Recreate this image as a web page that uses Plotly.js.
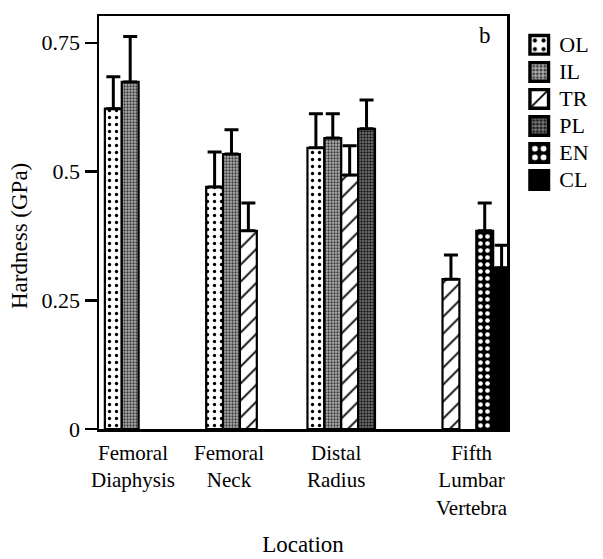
<!DOCTYPE html>
<html>
<head>
<meta charset="utf-8">
<script src="https://cdn.plot.ly/plotly-3.0.1.min.js"></script>
<style>html,body{margin:0;padding:0;background:#fff;}</style>
</head>
<body>
<div id="chart" style="width:603px;height:559px;"></div>
<script>
// ---- data ----
const categories = ['Femoral Diaphysis', 'Femoral Neck', 'Distal Radius', 'Fifth Lumbar Vertebra'];
const tickLabels = ['Femoral<br>Diaphysis', 'Femoral<br>Neck', 'Distal<br>Radius', 'Fifth<br>Lumbar<br>Vertebra'];
const seriesNames = ['OL', 'IL', 'TR', 'PL', 'EN', 'CL'];
const OL = [0.622, 0.470, 0.546, null];
const IL = [0.674, 0.534, 0.565, null];
const TR = [null, 0.385, 0.493, 0.291];
const PL = [null, null, 0.583, null];
const EN = [null, null, null, 0.385];
const CL = [null, null, null, 0.313];
// upper end of error bar
const OL_err = [0.684, 0.538, 0.612, null];
const IL_err = [0.762, 0.581, 0.612, null];
const TR_err = [null, 0.439, 0.550, 0.338];
const PL_err = [null, null, 0.639, null];
const EN_err = [null, null, null, 0.439];
const CL_err = [null, null, null, 0.357];
const yTickVals = [0, 0.25, 0.5, 0.75];
const yTickText = ['0', '0.25', '0.5', '0.75'];

const values = [OL, IL, TR, PL, EN, CL];
const errTops = [OL_err, IL_err, TR_err, PL_err, EN_err, CL_err];

const FONT = 'Liberation Serif, Times New Roman, serif';
const FS = 23;
const styles = [
  {color: '#ffffff', pattern: {shape: '.', bgcolor: '#ffffff', fgcolor: '#000000', size: 7, solidity: 0.18, fillmode: 'replace'}},
  {color: '#8a8a8a', pattern: {shape: '.', bgcolor: '#b0b0b0', fgcolor: '#3a3a3a', size: 3, solidity: 0.45, fillmode: 'replace'}},
  {color: '#ffffff', pattern: {shape: '/', bgcolor: '#ffffff', fgcolor: '#000000', size: 12, solidity: 0.15, fillmode: 'replace'}},
  {color: '#555555', pattern: {shape: '.', bgcolor: '#7a7a7a', fgcolor: '#1a1a1a', size: 3, solidity: 0.5, fillmode: 'replace'}},
  {color: '#000000', pattern: {shape: '.', bgcolor: '#000000', fgcolor: '#ffffff', size: 7, solidity: 0.35, fillmode: 'replace'}},
  {color: '#000000'}
];

const traces = seriesNames.map((name, i) => ({
  type: 'bar',
  name: name,
  x: categories,
  y: values[i],
  marker: Object.assign({line: {color: '#000', width: 2.2}}, styles[i]),
  error_y: {
    type: 'data', symmetric: false,
    array: errTops[i].map((e, k) => e == null ? null : e - values[i][k]),
    arrayminus: values[i].map(v => v == null ? null : 0),
    color: '#000', thickness: 3, width: 7
  }
}));

const labelShift = [-23, -28, -22, 13];
const annotations = categories.map((c, i) => ({
  x: c, xref: 'x', y: 0, yref: 'paper', yanchor: 'top', xanchor: 'center',
  yshift: -10, xshift: labelShift[i], showarrow: false, align: 'center',
  text: tickLabels[i], font: {family: FONT, size: 21, color: '#000'}
}));
annotations.push({
  text: 'b', xref: 'paper', yref: 'paper', x: (485 - 99) / 408, y: (429 - 35) / 413,
  xanchor: 'center', yanchor: 'middle', showarrow: false,
  font: {family: FONT, size: FS, color: '#000'}
});
annotations.push({
  text: 'Hardness (GPa)', xref: 'paper', yref: 'paper', x: (19 - 99) / 408, y: (429 - 236) / 413,
  xanchor: 'center', yanchor: 'middle', textangle: -90, showarrow: false,
  font: {family: FONT, size: FS, color: '#000'}
});

const layout = {
  width: 603, height: 559,
  margin: {l: 99, r: 96, t: 16, b: 130},
  paper_bgcolor: '#fff', plot_bgcolor: '#fff',
  font: {family: FONT, size: FS, color: '#000'},
  barmode: 'group', bargap: 0, bargroupgap: 0,
  showlegend: true,
  legend: {
    x: 1.03, xanchor: 'left', y: 0.975, yanchor: 'top',
    font: {family: FONT, size: 18.5, color: '#000'},
    traceorder: 'normal',
    bgcolor: 'rgba(0,0,0,0)', borderwidth: 0
  },
  xaxis: {
    type: 'category', range: [-0.558, 3.47], showticklabels: false, ticks: '',
    showline: true, linecolor: '#000', linewidth: 2.5, mirror: true, showgrid: false, zeroline: false,
    title: {text: 'Location', font: {family: FONT, size: FS, color: '#000'}, standoff: 106},
    automargin: false
  },
  yaxis: {
    range: [0, 0.802], tickvals: yTickVals, ticktext: yTickText,
    ticks: 'outside', ticklen: 12, tickwidth: 2.5, tickcolor: '#000',
    showline: true, linecolor: '#000', linewidth: 2.5, mirror: true, showgrid: false, zeroline: false,
    tickfont: {family: FONT, size: 22, color: '#000'}, automargin: false
  },
  annotations: annotations
};

Plotly.newPlot('chart', traces, layout, {displayModeBar: false, staticPlot: true}).then(() => {
  document.querySelectorAll('.legendpoints path').forEach(p => {
    const t = p.getAttribute('transform') || '';
    p.setAttribute('transform', t + ' scale(1.55)');
  });
  document.querySelectorAll('.legend text.legendtext').forEach(t => {
    t.style.fontSize = '22px';
  });
});
</script>
</body>
</html>
